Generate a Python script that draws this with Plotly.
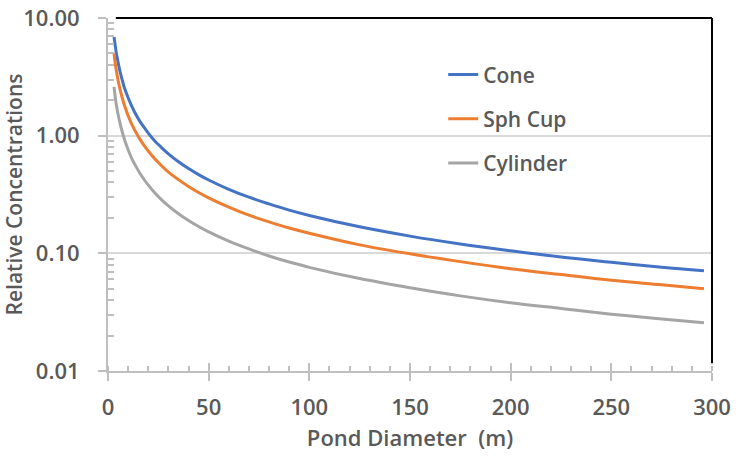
import plotly.graph_objects as go

diameter = [3, 3.5, 4, 4.5, 5, 6, 7, 8, 9, 10, 12, 14, 16, 18, 20, 23, 26, 30, 35, 40, 45, 50, 60, 70, 80, 90, 100,
            125, 150, 175, 200, 225, 250, 275, 296]
cone = [6.9, 6.0, 5.2, 4.65, 4.2, 3.5, 3.0, 2.6, 2.33, 2.1, 1.75, 1.5, 1.31, 1.17, 1.05, 0.91, 0.81, 0.70, 0.60,
        0.525, 0.467, 0.42, 0.35, 0.30, 0.263, 0.233, 0.21, 0.168, 0.14, 0.12, 0.105, 0.093, 0.084, 0.076, 0.071]
sph_cup = [5.0, 4.25, 3.7, 3.3, 2.96, 2.47, 2.12, 1.85, 1.65, 1.48, 1.23, 1.06, 0.925, 0.822, 0.74, 0.643, 0.569,
           0.49, 0.423, 0.37, 0.329, 0.296, 0.247, 0.211, 0.185, 0.164, 0.148, 0.118, 0.099, 0.085, 0.074, 0.066,
           0.059, 0.054, 0.050]
cylinder = [2.6, 2.19, 1.9, 1.69, 1.52, 1.27, 1.09, 0.95, 0.845, 0.76, 0.63, 0.543, 0.475, 0.422, 0.38, 0.33,
            0.292, 0.253, 0.217, 0.19, 0.169, 0.152, 0.127, 0.109, 0.095, 0.0845, 0.076, 0.061, 0.051, 0.0435,
            0.038, 0.034, 0.0304, 0.0277, 0.0257]

series_names = ["Cone", "Sph Cup", "Cylinder"]
series_colors = ["#4472C4", "#ED7D31", "#A5A5A5"]
y_tickvals = [0.01, 0.1, 1, 10]
y_ticktext = ["0.01", "0.10", "1.00", "10.00"]
y_minor_vals = [m * 10.0 ** e for e in (-2, -1, 0) for m in range(2, 10)]
x_tickvals = [0, 50, 100, 150, 200, 250, 300]

FONT = "Open Sans"
TXT = "#595959"
AX = "#BFBFBF"

fig = go.Figure()
for name, vals, col in zip(series_names, [cone, sph_cup, cylinder], series_colors):
    fig.add_trace(go.Scatter(x=diameter, y=vals, mode="lines", name=name,
                             legendgroup=name,
                             line=dict(color=col, width=3, shape="spline")))

# invisible trace on overlay axis to draw the inward part of major x ticks
fig.add_trace(go.Scatter(x=[0, 300], y=[0.01, 0.01], xaxis="x2", mode="lines",
                         line=dict(width=0), showlegend=False, hoverinfo="skip"))

fig.update_layout(
    width=736, height=467,
    margin=dict(l=108, r=24, t=18, b=96),
    paper_bgcolor="white", plot_bgcolor="white",
    font=dict(family=FONT, color=TXT, size=20),
    showlegend=True,
    legend=dict(x=0.555, y=0.897, xanchor="left", yanchor="top",
                font=dict(family=FONT, size=21, color=TXT, weight=600),
                tracegroupgap=14, bgcolor="rgba(0,0,0,0)"),
    xaxis=dict(range=[0, 300], tickvals=x_tickvals, showgrid=False, automargin=False,
               showline=True, linecolor=AX, linewidth=2,
               ticks="outside", ticklen=8, tickwidth=2, tickcolor=AX,
               ticklabelstandoff=8,
               minor=dict(ticks="inside", dtick=10, ticklen=5, tickwidth=1.5, tickcolor=AX, showgrid=False),
               tickfont=dict(family=FONT, size=22, color=TXT, weight=600),
               title=dict(text="Pond Diameter&nbsp; (m)", standoff=10,
                          font=dict(family=FONT, size=22, color=TXT, weight=600)),
               zeroline=False),
    xaxis2=dict(range=[0, 300], overlaying="x", anchor="y", side="bottom",
                tickvals=x_tickvals, showticklabels=False, showgrid=False,
                ticks="inside", ticklen=8, tickwidth=2, tickcolor=AX, showline=False),
    yaxis=dict(type="log", range=[-2, 1], tickvals=y_tickvals, ticktext=y_ticktext,
               showgrid=True, gridcolor="#D9D9D9", gridwidth=1.5, automargin=False,
               showline=True, linecolor=AX, linewidth=2,
               ticks="outside", ticklen=8, tickwidth=2, tickcolor=AX,
               ticklabelstandoff=14,
               minor=dict(tickmode="array", tickvals=y_minor_vals, ticks="inside", ticklen=6,
                          tickwidth=1.5, tickcolor=AX, showgrid=False),
               tickfont=dict(family=FONT, size=22, color=TXT, weight=600),
               title=dict(text="Relative Concentrations", standoff=10,
                          font=dict(family=FONT, size=21, color=TXT, weight=600)),
               zeroline=False),
)

fig.add_shape(type="line", xref="x domain", yref="y domain", x0=0.013, x1=1, y0=1, y1=1,
              line=dict(color="black", width=2))
fig.add_shape(type="line", xref="x domain", yref="y domain", x0=1, x1=1, y0=1, y1=0.022,
              line=dict(color="black", width=2))

fig.write_html("out.html", config={"displayModeBar": False},
               post_script="document.body.style.margin='0';")
